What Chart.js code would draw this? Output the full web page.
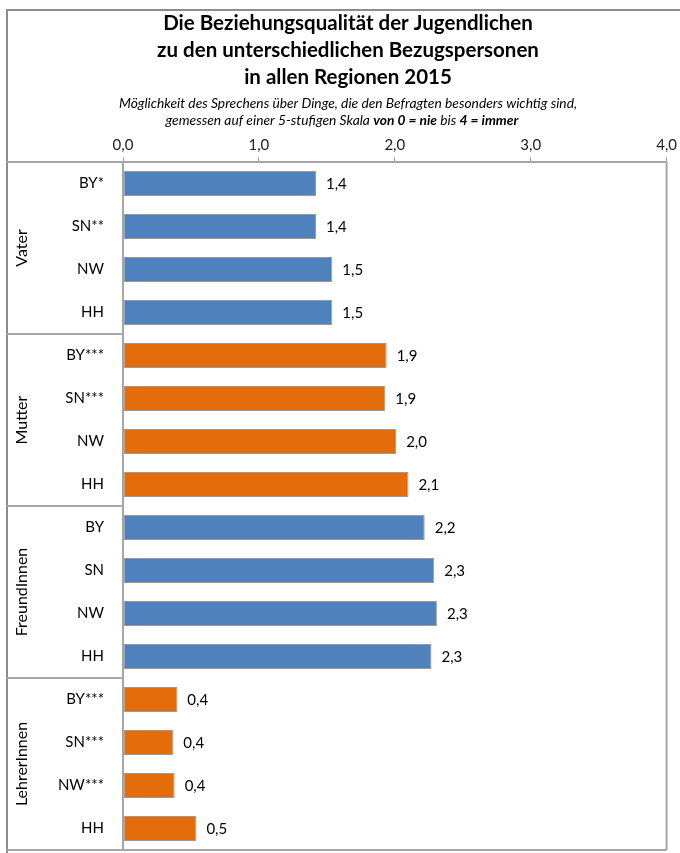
<!DOCTYPE html>
<html>
<head>
<meta charset="utf-8">
<script src="https://cdn.jsdelivr.net/npm/chart.js@4"></script>
<style>
  body { margin: 0; background: #fff; }
  #wrap { width: 680px; height: 853px; }
</style>
</head>
<body>
<div id="wrap"><canvas id="myChart"></canvas></div>
<script>
// regions, four per person group
var categories = ['BY*', 'SN**', 'NW', 'HH',
                  'BY***', 'SN***', 'NW', 'HH',
                  'BY', 'SN', 'NW', 'HH',
                  'BY***', 'SN***', 'NW***', 'HH'];
var groups = ['Vater', 'Mutter', 'FreundInnen', 'LehrerInnen'];

// mean scores on the 0..4 scale
var vater = [1.42, 1.42, 1.54, 1.54];
var mutter = [1.94, 1.93, 2.01, 2.10];
var freunde = [2.22, 2.29, 2.31, 2.27];
var lehrer = [0.40, 0.37, 0.38, 0.54];

var xTicks = [0, 1, 2, 3, 4];

var titleLines = ['Die Beziehungsqualität der Jugendlichen',
                  'zu den unterschiedlichen Bezugspersonen',
                  'in allen Regionen 2015'];
var subLine1 = 'Möglichkeit des Sprechens über Dinge, die den Befragten besonders wichtig sind,';
// [text, bold]
var subLine2 = [['gemessen auf einer 5-stufigen Skala ', false], ['von 0 = nie', true],
                [' bis ', false], ['4 = immer', true]];

var blue = '#4F81BD', orange = '#E46C0A';
var groupColors = [blue, orange, blue, orange];
var FONT = 'Lato, "Open Sans", sans-serif';

var values = vater.concat(mutter, freunde, lehrer);
var colors = [];
groups.forEach(function (g, i) {
  for (var k = 0; k < 4; k++) colors.push(groupColors[i]);
});

function fmt(v) { return v.toFixed(1).replace('.', ','); }

var decor = {
  id: 'decor',
  beforeDraw: function (chart) {
    var ctx = chart.ctx;
    ctx.save();
    // outer frame (top + left)
    ctx.strokeStyle = '#8c8c8c';
    ctx.lineWidth = 2;
    ctx.beginPath();
    ctx.moveTo(7, 853);
    ctx.lineTo(7, 10);
    ctx.lineTo(680, 10);
    ctx.stroke();

    // title block
    ctx.fillStyle = '#000';
    ctx.textAlign = 'center';
    ctx.textBaseline = 'middle';
    ctx.font = 'bold 20.5px ' + FONT;
    titleLines.forEach(function (t, i) { ctx.fillText(t, 348, 23 + i * 27); });

    ctx.font = 'italic 13.8px ' + FONT;
    ctx.fillText(subLine1, 348, 104);

    var total = 0;
    subLine2.forEach(function (r) {
      ctx.font = (r[1] ? 'italic bold ' : 'italic ') + '13.8px ' + FONT;
      total += ctx.measureText(r[0]).width;
    });
    var x = 342 - total / 2;
    ctx.textAlign = 'left';
    subLine2.forEach(function (r) {
      ctx.font = (r[1] ? 'italic bold ' : 'italic ') + '13.8px ' + FONT;
      ctx.fillText(r[0], x, 121);
      x += ctx.measureText(r[0]).width;
    });
    ctx.restore();
  },
  afterDatasetsDraw: function (chart) {
    var ctx = chart.ctx;
    var area = chart.chartArea;
    var y = chart.scales.y;
    var band = (area.bottom - area.top) / categories.length;
    ctx.save();

    // plot box + separators of the group column
    ctx.strokeStyle = '#a6a6a6';
    ctx.lineWidth = 2;
    ctx.beginPath();
    ctx.moveTo(area.right, area.top);
    ctx.lineTo(area.right, area.bottom);
    ctx.moveTo(7, area.bottom);
    ctx.lineTo(area.right, area.bottom);
    ctx.moveTo(7, area.top);
    ctx.lineTo(area.left, area.top);
    for (var g = 1; g < groups.length; g++) {
      var yy = y.getPixelForValue(g * 4) - band / 2;
      ctx.moveTo(7, yy);
      ctx.lineTo(area.left, yy);
    }
    ctx.stroke();

    // group names, rotated
    ctx.fillStyle = '#000';
    ctx.font = '16px ' + FONT;
    ctx.textAlign = 'center';
    ctx.textBaseline = 'middle';
    groups.forEach(function (name, i) {
      var mid = (y.getPixelForValue(i * 4) + y.getPixelForValue(i * 4 + 3)) / 2;
      ctx.save();
      ctx.translate(22, mid);
      ctx.rotate(-Math.PI / 2);
      ctx.fillText(name, 0, 0);
      ctx.restore();
    });

    // value labels next to the bars
    ctx.font = '15px ' + FONT;
    ctx.textAlign = 'left';
    chart.getDatasetMeta(0).data.forEach(function (bar, i) {
      ctx.fillText(fmt(values[i]), bar.x + 10, bar.y + 1);
    });
    ctx.restore();
  }
};

var ctx = document.getElementById('myChart').getContext('2d');
var myChart = new Chart(ctx, {
  type: 'bar',
  data: {
    labels: categories,
    datasets: [{
      data: values,
      backgroundColor: colors,
      borderColor: '#9a9a9a',
      borderWidth: 1,
      borderSkipped: false,
      barPercentage: 0.58,
      categoryPercentage: 1
    }]
  },
  options: {
    indexAxis: 'y',
    responsive: true,
    maintainAspectRatio: false,
    animation: false,
    layout: { padding: { left: 0, right: 13, top: 0, bottom: 3 } },
    plugins: {
      legend: { display: false },
      title: { display: false },
      tooltip: { enabled: false }
    },
    scales: {
      x: {
        position: 'top',
        min: 0,
        max: 4,
        afterFit: function (s) { s.height = 162; },
        afterBuildTicks: function (s) {
          s.ticks = xTicks.map(function (v) { return { value: v }; });
        },
        ticks: {
          color: '#222',
          font: { family: FONT, size: 15 },
          padding: 3,
          callback: function (v) { return fmt(v); }
        },
        grid: {
          drawOnChartArea: false,
          drawTicks: true,
          tickLength: 5,
          color: '#a6a6a6',
          lineWidth: 1
        },
        border: { display: true, color: '#a6a6a6', width: 2 }
      },
      y: {
        afterFit: function (s) {
          s.width = 123;
          s.paddingTop = 0;
          s.paddingBottom = 0;
        },
        ticks: {
          color: '#000',
          font: { family: FONT, size: 15 },
          padding: 19
        },
        grid: { display: false, drawTicks: false },
        border: { display: true, color: '#a6a6a6', width: 2 }
      }
    }
  },
  plugins: [decor]
});
</script>
</body>
</html>
